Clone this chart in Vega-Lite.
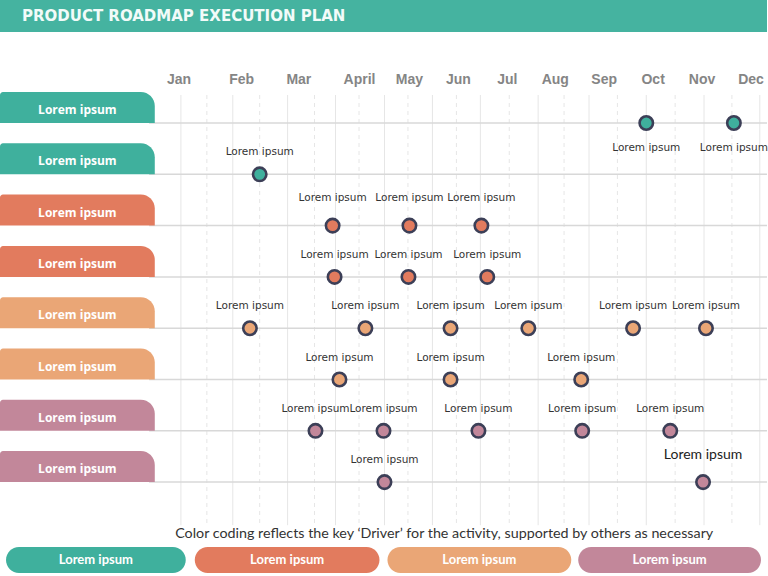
{
  "$schema": "https://vega.github.io/schema/vega-lite/v6.json",
  "width": 768,
  "height": 576,
  "autosize": {"type": "fit", "contains": "padding"},
  "padding": 0,
  "background": "white",
  "config": {"view": {"stroke": null}},
  "datasets": {
    "rows": [
      {"row": 1, "driver": "Driver 1", "label": "Lorem ipsum"},
      {"row": 2, "driver": "Driver 1", "label": "Lorem ipsum"},
      {"row": 3, "driver": "Driver 2", "label": "Lorem ipsum"},
      {"row": 4, "driver": "Driver 2", "label": "Lorem ipsum"},
      {"row": 5, "driver": "Driver 3", "label": "Lorem ipsum"},
      {"row": 6, "driver": "Driver 3", "label": "Lorem ipsum"},
      {"row": 7, "driver": "Driver 4", "label": "Lorem ipsum"},
      {"row": 8, "driver": "Driver 4", "label": "Lorem ipsum"}
    ],
    "events": [
      {"row": 1, "month": 9.86, "driver": "Driver 1", "label": "Lorem ipsum"},
      {"row": 1, "month": 11.65, "driver": "Driver 1", "label": "Lorem ipsum"},
      {"row": 2, "month": 1.96, "driver": "Driver 1", "label": "Lorem ipsum"},
      {"row": 3, "month": 3.45, "driver": "Driver 2", "label": "Lorem ipsum"},
      {"row": 3, "month": 5.02, "driver": "Driver 2", "label": "Lorem ipsum"},
      {"row": 3, "month": 6.49, "driver": "Driver 2", "label": "Lorem ipsum"},
      {"row": 4, "month": 3.49, "driver": "Driver 2", "label": "Lorem ipsum"},
      {"row": 4, "month": 5.0, "driver": "Driver 2", "label": "Lorem ipsum"},
      {"row": 4, "month": 6.61, "driver": "Driver 2", "label": "Lorem ipsum"},
      {"row": 5, "month": 1.76, "driver": "Driver 3", "label": "Lorem ipsum"},
      {"row": 5, "month": 4.12, "driver": "Driver 3", "label": "Lorem ipsum"},
      {"row": 5, "month": 5.86, "driver": "Driver 3", "label": "Lorem ipsum"},
      {"row": 5, "month": 7.45, "driver": "Driver 3", "label": "Lorem ipsum"},
      {"row": 5, "month": 9.59, "driver": "Driver 3", "label": "Lorem ipsum"},
      {"row": 5, "month": 11.08, "driver": "Driver 3", "label": "Lorem ipsum"},
      {"row": 6, "month": 3.59, "driver": "Driver 3", "label": "Lorem ipsum"},
      {"row": 6, "month": 5.86, "driver": "Driver 3", "label": "Lorem ipsum"},
      {"row": 6, "month": 8.53, "driver": "Driver 3", "label": "Lorem ipsum"},
      {"row": 7, "month": 3.1, "driver": "Driver 4", "label": "Lorem ipsum"},
      {"row": 7, "month": 4.49, "driver": "Driver 4", "label": "Lorem ipsum"},
      {"row": 7, "month": 6.43, "driver": "Driver 4", "label": "Lorem ipsum"},
      {"row": 7, "month": 8.55, "driver": "Driver 4", "label": "Lorem ipsum"},
      {"row": 7, "month": 10.35, "driver": "Driver 4", "label": "Lorem ipsum"},
      {"row": 8, "month": 4.51, "driver": "Driver 4", "label": "Lorem ipsum"},
      {"row": 8, "month": 11.02, "driver": "Driver 4", "label": "Lorem ipsum"}
    ],
    "months": [
      {"name": "Jan", "pos": 0.31},
      {"name": "Feb", "pos": 1.59},
      {"name": "Mar", "pos": 2.76},
      {"name": "April", "pos": 4.0},
      {"name": "May", "pos": 5.02},
      {"name": "Jun", "pos": 6.02},
      {"name": "Jul", "pos": 7.02},
      {"name": "Aug", "pos": 8.0},
      {"name": "Sep", "pos": 9.0},
      {"name": "Oct", "pos": 10.0},
      {"name": "Nov", "pos": 11.0},
      {"name": "Dec", "pos": 12.0}
    ],
    "grid": [
      {"pos": 0.35, "kind": "solid"}, {"pos": 0.88, "kind": "dash"},
      {"pos": 1.41, "kind": "solid"}, {"pos": 1.96, "kind": "dash"},
      {"pos": 2.53, "kind": "solid"}, {"pos": 3.08, "kind": "dash"},
      {"pos": 3.51, "kind": "solid"}, {"pos": 3.99, "kind": "dash"},
      {"pos": 4.51, "kind": "solid"}, {"pos": 4.99, "kind": "dash"},
      {"pos": 5.49, "kind": "solid"}, {"pos": 5.98, "kind": "dash"},
      {"pos": 6.47, "kind": "solid"}, {"pos": 7.06, "kind": "dash"},
      {"pos": 7.65, "kind": "solid"}, {"pos": 8.18, "kind": "dash"},
      {"pos": 8.69, "kind": "solid"}, {"pos": 9.27, "kind": "dash"},
      {"pos": 9.86, "kind": "solid"}, {"pos": 10.45, "kind": "dash"},
      {"pos": 11.04, "kind": "solid"}, {"pos": 11.61, "kind": "dash"},
      {"pos": 12.18, "kind": "solid"}
    ],
    "legend": [
      {"driver": "Driver 1", "start": -3.224, "end": 0.449, "label": "Lorem ipsum"},
      {"driver": "Driver 2", "start": 0.633, "end": 4.408, "label": "Lorem ipsum"},
      {"driver": "Driver 3", "start": 4.571, "end": 8.327, "label": "Lorem ipsum"},
      {"driver": "Driver 4", "start": 8.469, "end": 12.204, "label": "Lorem ipsum"}
    ]
  },
  "layer": [
    {
      "data": {"values": [{"title": "PRODUCT ROADMAP EXECUTION PLAN"}]},
      "mark": {"type": "rect", "fill": "#45b3a0"},
      "encoding": {
        "x": {"datum": -3.347, "type": "quantitative", "scale": {"domain": [-3.347, 12.327], "nice": false, "zero": false}, "axis": null},
        "x2": {"datum": 12.327},
        "y": {"datum": -1.398, "type": "quantitative", "scale": {"domain": [-1.398, 9.83], "nice": false, "zero": false, "reverse": true}, "axis": null},
        "y2": {"datum": -0.774}
      }
    },
    {
      "data": {"values": [{"title": "PRODUCT ROADMAP EXECUTION PLAN"}]},
      "mark": {"type": "text", "align": "left", "baseline": "middle", "font": "DejaVu Sans", "fontWeight": "bold", "fontSize": 15, "fill": "#f2fbf9"},
      "encoding": {
        "x": {"datum": -2.898, "type": "quantitative"},
        "y": {"datum": -1.086, "type": "quantitative"},
        "text": {"field": "title"}
      }
    },
    {
      "data": {"name": "grid"},
      "transform": [{"filter": "datum.kind === 'solid'"}],
      "mark": {"type": "rule", "stroke": "#e6e6e6", "strokeWidth": 1},
      "encoding": {
        "x": {"field": "pos", "type": "quantitative"},
        "y": {"datum": 0.454, "type": "quantitative"},
        "y2": {"datum": 8.84}
      }
    },
    {
      "data": {"name": "grid"},
      "transform": [{"filter": "datum.kind === 'dash'"}],
      "mark": {"type": "rule", "stroke": "#e6e6e6", "strokeWidth": 1, "strokeDash": [4, 4]},
      "encoding": {
        "x": {"field": "pos", "type": "quantitative"},
        "y": {"datum": 0.454, "type": "quantitative"},
        "y2": {"datum": 8.84}
      }
    },
    {
      "data": {"name": "rows"},
      "mark": {"type": "rule", "stroke": "#d8d8d8", "strokeWidth": 1.5},
      "encoding": {
        "x": {"datum": -0.3, "type": "quantitative"},
        "x2": {"datum": 12.327},
        "y": {"field": "row", "type": "quantitative"}
      }
    },
    {
      "data": {"name": "rows"},
      "mark": {"type": "rect", "y2Offset": -31, "cornerRadiusTopRight": 14, "cornerRadiusTopLeft": 3},
      "encoding": {
        "x": {"datum": -3.347, "type": "quantitative"},
        "x2": {"datum": -0.184},
        "y": {"field": "row", "type": "quantitative"},
        "y2": {"field": "row"},
        "fill": {"field": "driver", "type": "nominal", "scale": {"domain": ["Driver 1", "Driver 2", "Driver 3", "Driver 4"], "range": ["#3fb09d", "#e27b5e", "#eaa676", "#c2879a"]}, "legend": null}
      }
    },
    {
      "data": {"name": "rows"},
      "mark": {"type": "text", "align": "center", "baseline": "middle", "dy": -13, "font": "Open Sans", "fontWeight": "bold", "fontSize": 12, "fill": "#ffffff"},
      "encoding": {
        "x": {"datum": -1.766, "type": "quantitative"},
        "y": {"field": "row", "type": "quantitative"},
        "text": {"field": "label"}
      }
    },
    {
      "data": {"name": "months"},
      "mark": {"type": "text", "align": "center", "baseline": "middle", "font": "Liberation Sans", "fontWeight": "bold", "fontSize": 14, "fill": "#858585"},
      "encoding": {
        "x": {"field": "pos", "type": "quantitative"},
        "y": {"datum": 0.162, "type": "quantitative"},
        "text": {"field": "name"}
      }
    },
    {
      "data": {"name": "events"},
      "mark": {"type": "point", "filled": true, "opacity": 1, "size": 180, "stroke": "#3c3f57", "strokeWidth": 2.6},
      "encoding": {
        "x": {"field": "month", "type": "quantitative"},
        "y": {"field": "row", "type": "quantitative"},
        "fill": {"field": "driver", "type": "nominal", "legend": null}
      }
    },
    {
      "data": {"name": "events"},
      "transform": [{"filter": "datum.row > 1 && datum.row !== 3 && !(datum.row === 8 && datum.month > 10)"}],
      "mark": {"type": "text", "align": "center", "baseline": "middle", "dy": -22, "font": "DejaVu Sans", "fontSize": 10.5, "fill": "#333333"},
      "encoding": {
        "x": {"field": "month", "type": "quantitative"},
        "y": {"field": "row", "type": "quantitative"},
        "text": {"field": "label"}
      }
    },
    {
      "data": {"name": "events"},
      "transform": [{"filter": "datum.row === 3"}],
      "mark": {"type": "text", "align": "center", "baseline": "middle", "dy": -28, "font": "DejaVu Sans", "fontSize": 10.5, "fill": "#333333"},
      "encoding": {
        "x": {"field": "month", "type": "quantitative"},
        "y": {"field": "row", "type": "quantitative"},
        "text": {"field": "label"}
      }
    },
    {
      "data": {"name": "events"},
      "transform": [{"filter": "datum.row === 1"}],
      "mark": {"type": "text", "align": "center", "baseline": "middle", "dy": 25, "font": "DejaVu Sans", "fontSize": 10.5, "fill": "#333333"},
      "encoding": {
        "x": {"field": "month", "type": "quantitative"},
        "y": {"field": "row", "type": "quantitative"},
        "text": {"field": "label"}
      }
    },
    {
      "data": {"name": "events"},
      "transform": [{"filter": "datum.row === 8 && datum.month > 10"}],
      "mark": {"type": "text", "align": "center", "baseline": "middle", "dy": -27, "font": "Lato", "fontSize": 14, "fill": "#222222"},
      "encoding": {
        "x": {"field": "month", "type": "quantitative"},
        "y": {"field": "row", "type": "quantitative"},
        "text": {"field": "label"}
      }
    },
    {
      "data": {"values": [{"caption": "Color coding reflects the key ‘Driver’ for the activity, supported by others as necessary"}]},
      "mark": {"type": "text", "align": "center", "baseline": "middle", "font": "Lato", "fontSize": 14.3, "fill": "#333333"},
      "encoding": {
        "x": {"datum": 5.73, "type": "quantitative"},
        "y": {"datum": 9.01, "type": "quantitative"},
        "text": {"field": "caption"}
      }
    },
    {
      "data": {"name": "legend"},
      "mark": {"type": "rect", "cornerRadius": 13},
      "encoding": {
        "x": {"field": "start", "type": "quantitative"},
        "x2": {"field": "end"},
        "y": {"datum": 9.265, "type": "quantitative"},
        "y2": {"datum": 9.77},
        "fill": {"field": "driver", "type": "nominal", "legend": null}
      }
    },
    {
      "data": {"name": "legend"},
      "transform": [{"calculate": "(datum.start + datum.end) / 2", "as": "mid"}],
      "mark": {"type": "text", "align": "center", "baseline": "middle", "font": "Lato", "fontWeight": "bold", "fontSize": 13, "fill": "#ffffff"},
      "encoding": {
        "x": {"field": "mid", "type": "quantitative"},
        "y": {"datum": 9.518, "type": "quantitative"},
        "text": {"field": "label"}
      }
    }
  ]
}
